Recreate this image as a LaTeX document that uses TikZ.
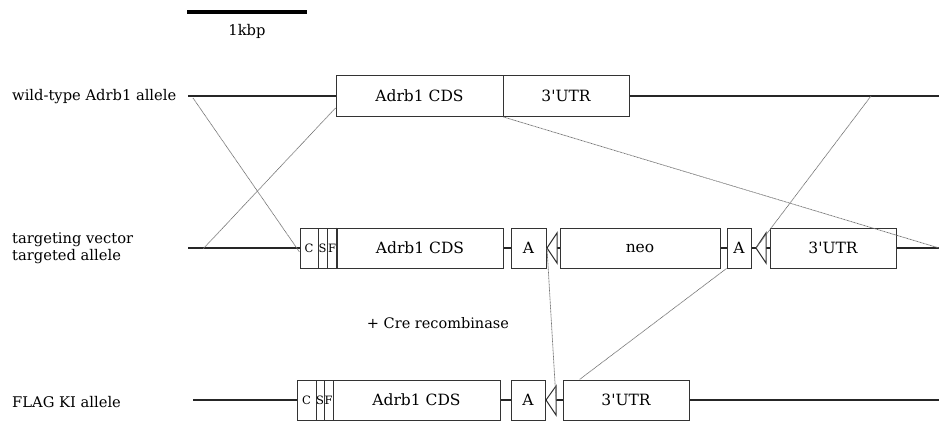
\documentclass[tikz,border=0pt]{standalone}
\usepackage{fontspec}
\setmainfont{DejaVu Serif}
\newcommand{\apos}{\textquotesingle}
\begin{document}
\begin{tikzpicture}[x=1pt,y=-1pt,
  dna/.style={line width=2.2pt,draw=black!85},
  box/.style={draw=black!80,line width=1pt,fill=white,rectangle,inner sep=0pt,minimum height=40pt,font=\fontsize{15.5}{17}\selectfont},
  tiny/.style={box,font=\fontsize{11.5}{12}\selectfont},
  lox/.style={draw=black!80,line width=1pt,fill=white},
  cross/.style={draw=black!55,line width=0.7pt,dash pattern=on 1pt off 0.5pt},
  lbl/.style={anchor=west,inner sep=0pt,font=\fontsize{14.7}{17}\selectfont,align=left}]
\useasboundingbox (0,0) rectangle (939,421);
% scale bar
\coordinate (s0) at (187,12);
\coordinate (s1) at (307,12);
\draw[line width=3.2pt,black] (s0) -- (s1);
\node[font=\fontsize{14.7}{17}\selectfont] (kbp) at (247,31) {1kbp};
% ---------- row 1 ----------
\node[lbl] (wtl) at (12,97) {wild-type Adrb1 allele};
\coordinate (w0) at (188,96);
\coordinate (wx) at (871,96);
\coordinate (wend) at (939,96);
\node[box,minimum width=167pt,minimum height=41pt] (wcds) at (419.5,96) {Adrb1 CDS};
\node[box,minimum width=126pt,minimum height=41pt] (wutr) at (566,96) {3\apos UTR};
\draw[dna] (w0) -- (wcds.west);
\draw[dna] (wutr.east) -- (wend);
% ---------- row 2 ----------
\node[lbl] (tvl) at (12,248) {targeting vector\\targeted allele};
\coordinate (t0) at (188,248);
\coordinate (tend) at (939,248);
\draw[dna] (t0) -- (tend);
\node[tiny,minimum width=18pt] (tc) at (309,248) {C};
\node[tiny,minimum width=9pt] (ts) at (322.5,248) {S};
\node[tiny,minimum width=10pt] (tf) at (332,248) {F};
\node[box,minimum width=166pt] (tcds) at (420,248) {Adrb1 CDS};
\draw[black!80,line width=1.6pt] (tcds.north west) -- (tcds.south west);
\node[box,minimum width=35pt] (ta1) at (528.5,248) {A};
\coordinate (tl1) at (547,248);
\draw[lox] (tl1) -- (557,233) -- (557,263) -- cycle;
\node[box,minimum width=160pt] (tneo) at (640,248) {neo};
\node[box,minimum width=24pt] (ta2) at (739,248) {A};
\coordinate (tl2) at (756,248);
\draw[lox] (tl2) -- (766,233) -- (766,263) -- cycle;
\node[box,minimum width=126pt] (tutr) at (833,248) {3\apos UTR};
\draw[dna,line width=1.4pt] (ta1.east) -- (tl1);
\draw[dna,line width=1.4pt] (ta2.east) -- (tl2);
% ---------- Cre ----------
\node[font=\fontsize{14.5}{17}\selectfont] (cre) at (438,323) {+ Cre recombinase};
% ---------- row 3 ----------
\node[lbl] (fkl) at (12,402) {FLAG KI allele};
\coordinate (f0) at (193,400);
\coordinate (fend) at (939,400);
\draw[dna] (f0) -- (fend);
\node[tiny,minimum width=19pt] (fc) at (306.5,400) {C};
\node[tiny,minimum width=8pt] (fs) at (320,400) {S};
\node[tiny,minimum width=9pt] (ff) at (328.5,400) {F};
\node[box,minimum width=167pt] (fcds) at (416.5,400) {Adrb1 CDS};
\node[box,minimum width=34pt] (fa) at (528,400) {A};
\coordinate (fl) at (546,400);
\coordinate (flb) at (556,400);
\draw[lox] (fl) -- (556,386) -- (556,415) -- cycle;
\node[box,minimum width=126pt] (futr) at (626,400) {3\apos UTR};
\draw[dna,line width=1.4pt] (fa.east) -- (fl);
% ---------- crossover lines ----------
\draw[cross] ([shift={(5,2)}]w0) -- ([yshift=-4pt]tc.west);
\draw[cross] ([yshift=-12pt]wcds.west) -- ([xshift=15pt,yshift=-1pt]t0);
\draw[cross] (wcds.south east) -- (tend);
\draw[cross] (wx) -- (tl2);
\draw[cross] (tl1) -- (flb);
\draw[cross] (ta2.south west) -- ([xshift=17pt]futr.north west);
\end{tikzpicture}
\end{document}
